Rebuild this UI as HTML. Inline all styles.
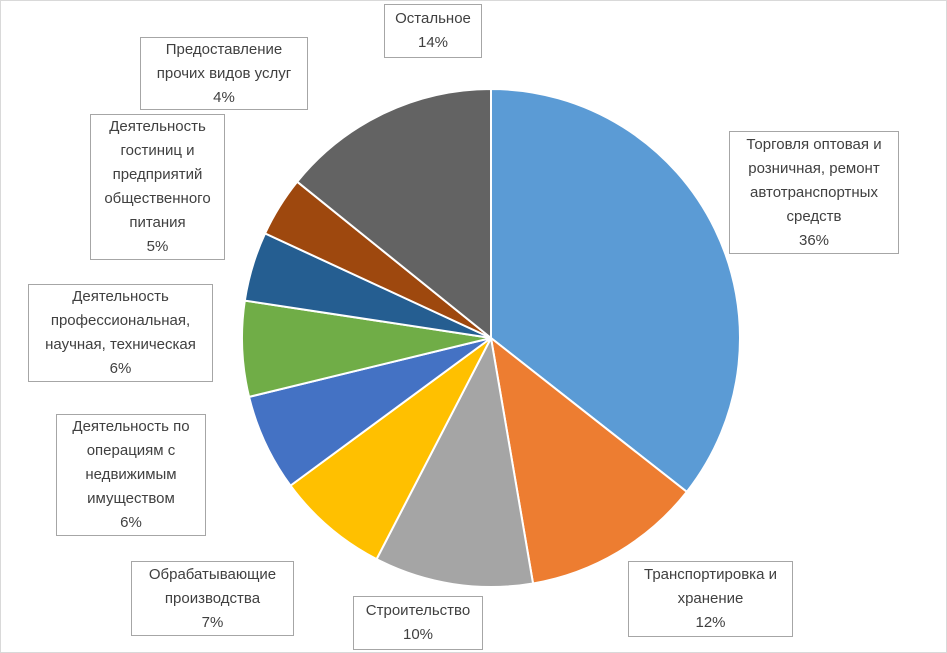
<!DOCTYPE html>
<html><head><meta charset="utf-8"><style>
body{margin:0;background:#fff;}
#c{position:relative;width:945px;height:651px;border:1px solid #d9d9d9;overflow:hidden;font-family:"Liberation Sans","DejaVu Sans",sans-serif;font-size:15px;color:#404040;}
.l{position:absolute;border:1px solid #a6a6a6;background:#fff;text-align:center;line-height:24px;box-sizing:border-box;display:flex;flex-direction:column;justify-content:center;}
svg{position:absolute;left:0;top:0;}
</style></head><body><div id="c">
<svg id="s" width="945" height="651"></svg>
<div class="l" style="left:383px;top:3px;width:98px;height:54px">Остальное<br>14%</div>
<div class="l" style="left:139px;top:36px;width:168px;height:73px">Предоставление<br>прочих видов услуг<br>4%</div>
<div class="l" style="left:89px;top:113px;width:135px;height:146px">Деятельность<br>гостиниц и<br>предприятий<br>общественного<br>питания<br>5%</div>
<div class="l" style="left:27px;top:283px;width:185px;height:98px">Деятельность<br>профессиональная,<br>научная, техническая<br>6%</div>
<div class="l" style="left:55px;top:413px;width:150px;height:122px">Деятельность по<br>операциям с<br>недвижимым<br>имуществом<br>6%</div>
<div class="l" style="left:130px;top:560px;width:163px;height:75px">Обрабатывающие<br>производства<br>7%</div>
<div class="l" style="left:352px;top:595px;width:130px;height:54px">Строительство<br>10%</div>
<div class="l" style="left:627px;top:560px;width:165px;height:76px">Транспортировка и<br>хранение<br>12%</div>
<div class="l" style="left:728px;top:130px;width:170px;height:123px">Торговля оптовая и<br>розничная, ремонт<br>автотранспортных<br>средств<br>36%</div>
</div>
<script>
var v=[35.6,11.7,10.3,7.3,6.3,6.2,4.5,3.9,14.2],col=["#5B9BD5","#ED7D31","#A5A5A5","#FFC000","#4472C4","#70AD47","#255E91","#9E480E","#636363"];
var cx=490,cy=337,r=249,a=0,h="";
for(var i=0;i<v.length;i++){var b=a+v[i]/100*2*Math.PI;
var x1=cx+r*Math.sin(a),y1=cy-r*Math.cos(a),x2=cx+r*Math.sin(b),y2=cy-r*Math.cos(b);
h+='<path d="M'+cx+','+cy+'L'+x1+','+y1+'A'+r+','+r+' 0 '+(b-a>Math.PI?1:0)+' 1 '+x2+','+y2+'Z" fill="'+col[i]+'" stroke="#fff" stroke-width="2"/>';a=b;}
document.getElementById("s").innerHTML=h;
</script>
</body></html>
